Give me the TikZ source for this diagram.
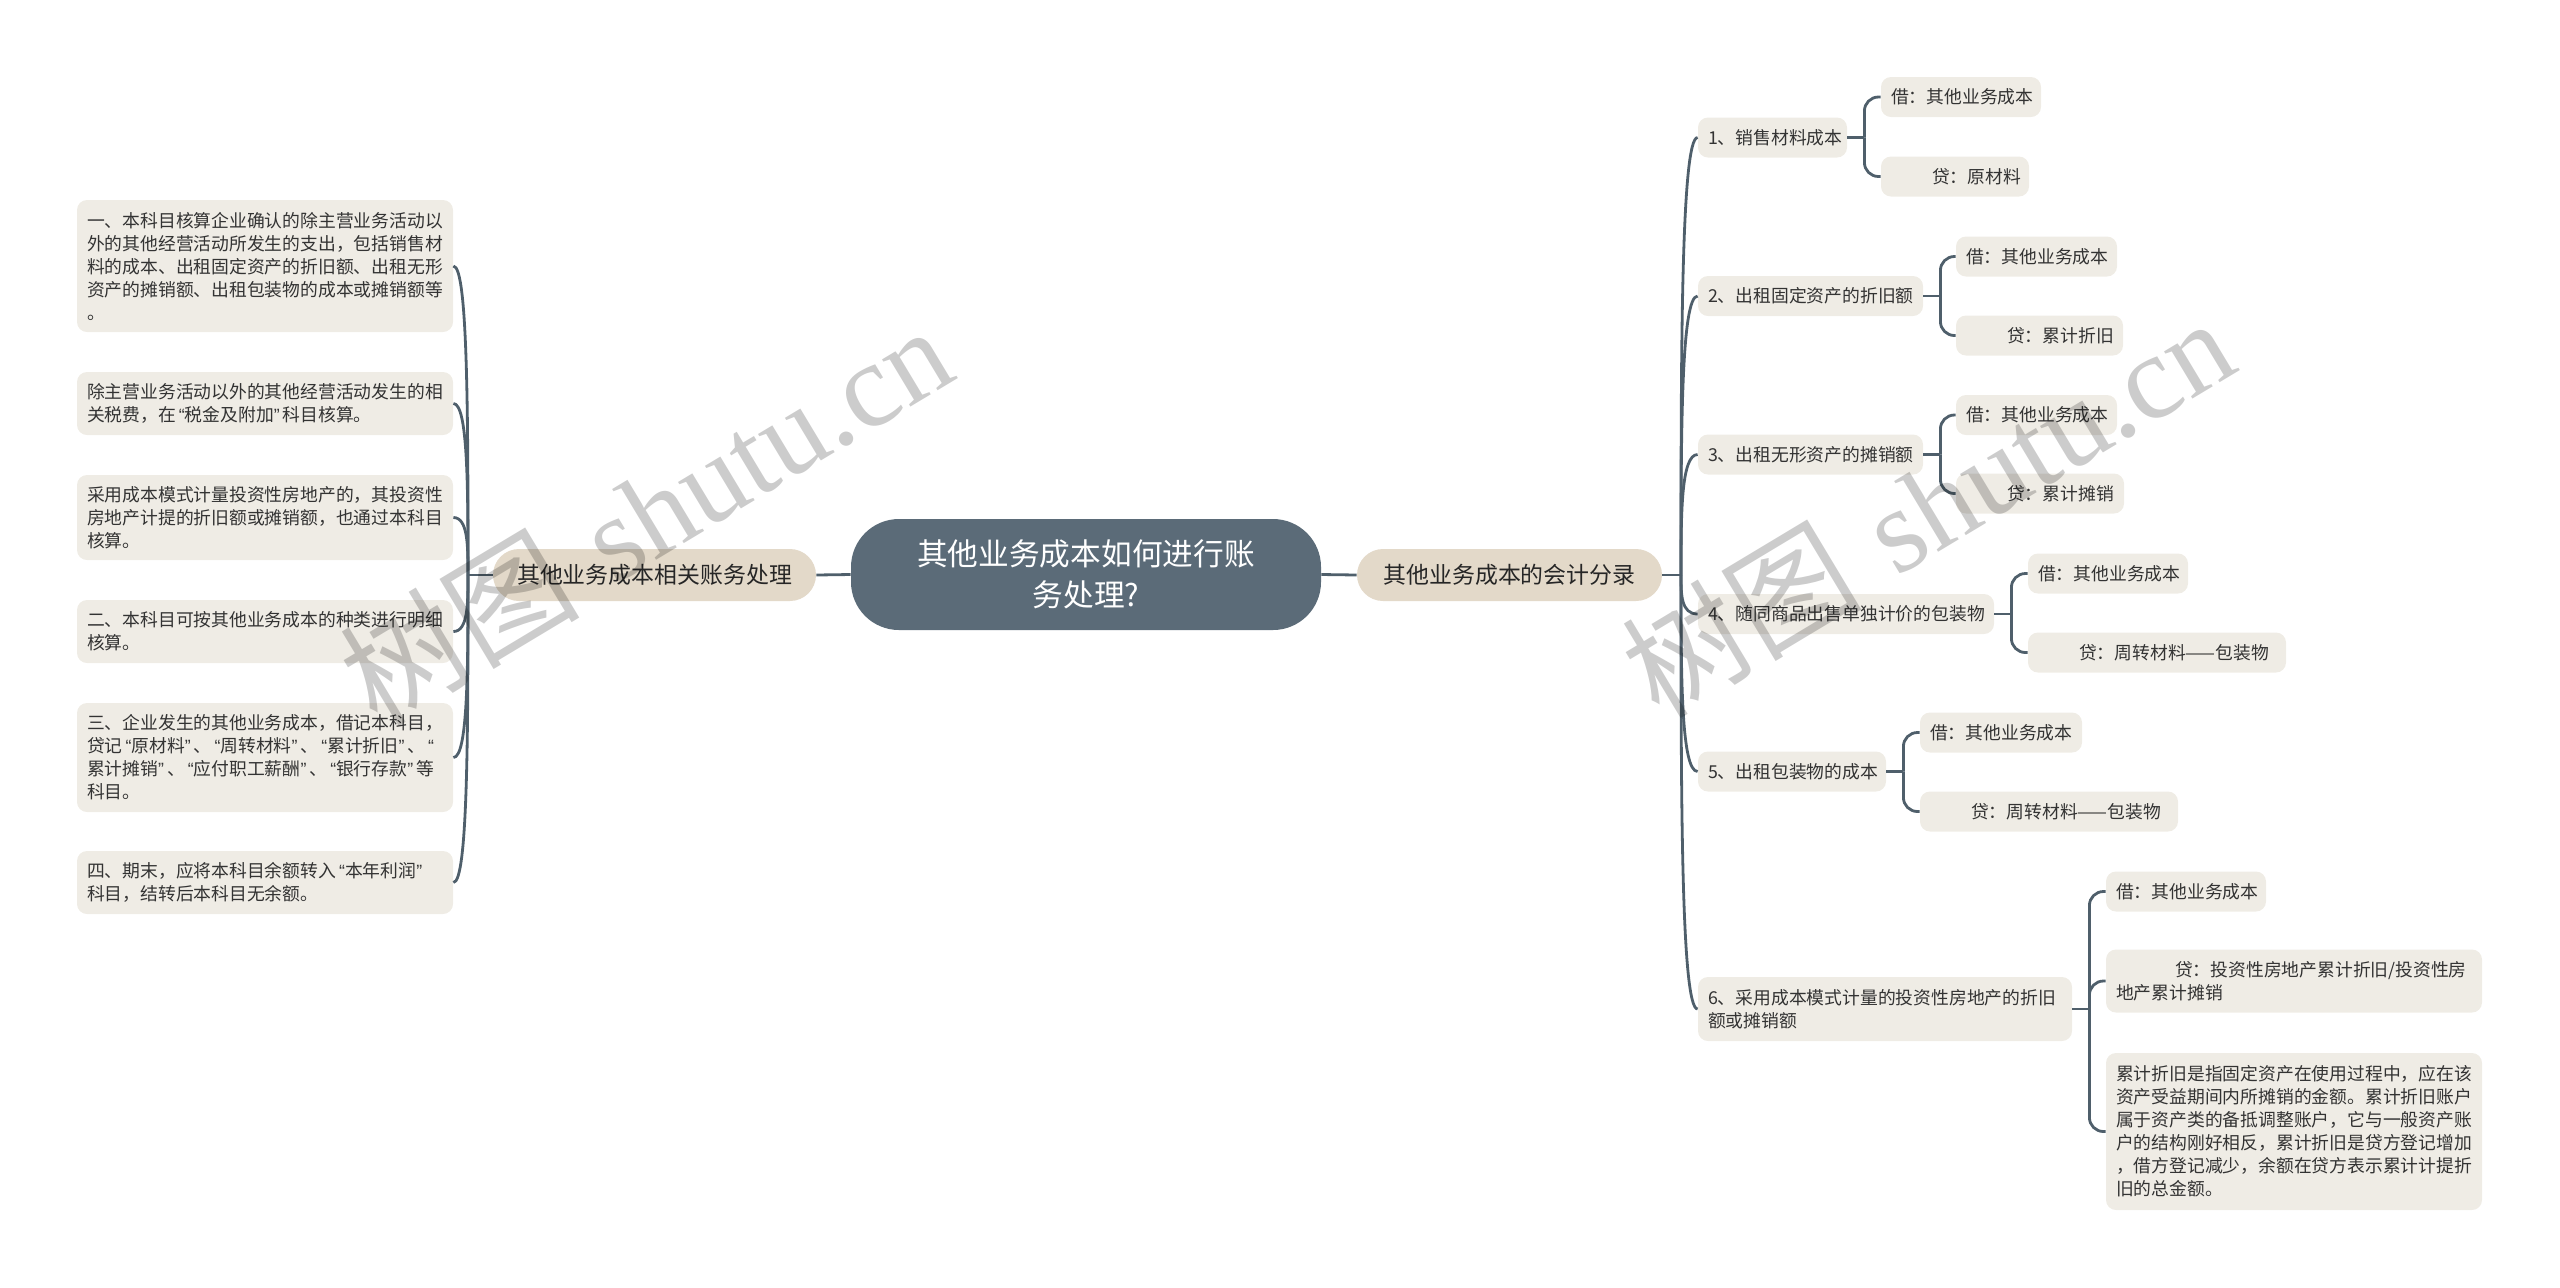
\documentclass[tikz,border=0pt]{standalone}
\usepackage{fontspec}
\newfontfamily\cjk{Noto Sans CJK SC}
\newfontfamily\wmserif{Liberation Serif}
\newfontfamily\qf{Liberation Sans}
\newcommand\qL{\makebox[0.5em][r]{\qf “}}
\newcommand\qR{\makebox[0.5em][l]{\qf ”}}
\usetikzlibrary{calc}
\definecolor{rootc}{HTML}{5B6B78}
\definecolor{mainc}{HTML}{E3D9C9}
\definecolor{leafc}{HTML}{EFECE5}
\definecolor{linec}{HTML}{4F5F6B}
\definecolor{txtc}{HTML}{333333}
\begin{document}
\begin{tikzpicture}[x=0.5pt,y=-0.5pt,
 conn/.style={draw=linec, line width=1.4pt},
 leaf/.style={fill=leafc, rounded corners=5pt, inner xsep=5pt, inner ysep=0pt, align=left, text=txtc, font=\cjk\fontsize{8.9pt}{11.5pt}\selectfont},
 mainnode/.style={fill=mainc, rounded corners=13pt, inner sep=0pt, align=center, text=black!85, minimum height=26pt, font=\cjk\fontsize{11.45pt}{14pt}\selectfont},
 rootnode/.style={fill=rootc, rounded corners=24pt, inner sep=0pt, align=center, text=white, minimum width=235pt, minimum height=55.5pt, font=\cjk\fontsize{15.35pt}{20.5pt}\selectfont},
 wm/.style={rotate=31, text=black, text opacity=0.2, font=\fontsize{60pt}{60pt}\selectfont, inner sep=0pt},
]
\useasboundingbox (0,0) rectangle (2560,1287);

% root and main nodes
\node[rootnode] (root) at (1086,574.5) {其他业务成本如何进行账\\务处理?};
\node[mainnode, minimum width=161.5pt] (LM) at (654.5,575) {其他业务成本相关账务处理};
\node[mainnode, minimum width=152.5pt] (RM) at (1509.5,575) {其他业务成本的会计分录};

% left leaves
\node[leaf, minimum width=188pt, text width=178pt, minimum height=66pt] (L1) at (265,266) {一、本科目核算企业确认的除主营业务活动以\\外的其他经营活动所发生的支出，包括销售材\\料的成本、出租固定资产的折旧额、出租无形\\资产的摊销额、出租包装物的成本或摊销额等\\。};
\node[leaf, minimum width=188pt, text width=178pt, minimum height=31.5pt] (L2) at (265,403.5) {除主营业务活动以外的其他经营活动发生的相\\关税费，在\qL 税金及附加\qR 科目核算。};
\node[leaf, minimum width=188pt, text width=178pt, minimum height=42.5pt] (L3) at (265,517.5) {采用成本模式计量投资性房地产的，其投资性\\房地产计提的折旧额或摊销额，也通过本科目\\核算。};
\node[leaf, minimum width=188pt, text width=178pt, minimum height=31.5pt] (L4) at (265,631.5) {二、本科目可按其他业务成本的种类进行明细\\核算。};
\node[leaf, minimum width=188pt, text width=178pt, minimum height=54.5pt] (L5) at (265,757.5) {三、企业发生的其他业务成本，借记本科目，\\贷记\qL 原材料\qR 、\qL 周转材料\qR 、\qL 累计折旧\qR 、\qL\\累计摊销\qR 、\qL 应付职工薪酬\qR 、\qL 银行存款\qR 等\\科目。};
\node[leaf, minimum width=188pt, text width=178pt, minimum height=31.5pt] (L6) at (265,882.5) {四、期末，应将本科目余额转入\qL 本年利润\qR\\科目，结转后本科目无余额。};

% right second level
\node[leaf, minimum width=74.5pt, text width=64.5pt, minimum height=20pt] (R1) at (1772.5,137.5) {1、销售材料成本};
\node[leaf, minimum width=112.5pt, text width=102.5pt, minimum height=20pt] (R2) at (1810.5,296) {2、出租固定资产的折旧额};
\node[leaf, minimum width=112.5pt, text width=102.5pt, minimum height=20pt] (R3) at (1810.5,454.5) {3、出租无形资产的摊销额};
\node[leaf, minimum width=148pt, text width=138pt, minimum height=20pt] (R4) at (1846,614) {4、随同商品出售单独计价的包装物};
\node[leaf, minimum width=94pt, text width=84pt, minimum height=20pt] (R5) at (1792,771.5) {5、出租包装物的成本};
\node[leaf, minimum width=187pt, text width=177pt, minimum height=32pt] (R6) at (1885,1009) {6、采用成本模式计量的投资性房地产的折旧\\额或摊销额};

% right third level
\node[leaf, minimum width=80pt, text width=70pt, minimum height=20pt] (R1a) at (1961,97) {借：其他业务成本};
\node[leaf, minimum width=74pt, text width=64pt, minimum height=20pt] (R1b) at (1955,176.5) {\hspace*{20.5pt}贷：原材料};
\node[leaf, minimum width=80.5pt, text width=70.5pt, minimum height=20pt] (R2a) at (2036.5,256.5) {借：其他业务成本};
\node[leaf, minimum width=83.5pt, text width=73.5pt, minimum height=20pt] (R2b) at (2039.5,335.5) {\hspace*{20.5pt}贷：累计折旧};
\node[leaf, minimum width=80.5pt, text width=70.5pt, minimum height=20pt] (R3a) at (2036.5,415) {借：其他业务成本};
\node[leaf, minimum width=84pt, text width=74pt, minimum height=20pt] (R3b) at (2040,493.5) {\hspace*{20.5pt}贷：累计摊销};
\node[leaf, minimum width=80pt, text width=70pt, minimum height=20pt] (R4a) at (2108,573.5) {借：其他业务成本};
\node[leaf, minimum width=129pt, text width=119pt, minimum height=20pt] (R4b) at (2157,652.5) {\hspace*{20.5pt}贷：周转材料——包装物};
\node[leaf, minimum width=81pt, text width=71pt, minimum height=20pt] (R5a) at (2001,732.5) {借：其他业务成本};
\node[leaf, minimum width=129pt, text width=119pt, minimum height=20pt] (R5b) at (2049,811.5) {\hspace*{20.5pt}贷：周转材料——包装物};
\node[leaf, minimum width=80pt, text width=70pt, minimum height=20pt] (R6a) at (2186,891.5) {借：其他业务成本};
\node[leaf, minimum width=188pt, text width=178pt, minimum height=31.5pt] (R6b) at (2294,981) {\hspace*{29.5pt}贷：投资性房地产累计折旧/投资性房\\地产累计摊销};
\node[leaf, minimum width=188pt, text width=178pt, minimum height=78.5pt] (R6c) at (2294,1131.5) {累计折旧是指固定资产在使用过程中，应在该\\资产受益期间内所摊销的金额。累计折旧账户\\属于资产类的备抵调整账户，它与一般资产账\\户的结构刚好相反，累计折旧是贷方登记增加\\，借方登记减少，余额在贷方表示累计计提折\\旧的总金额。};

% root connectors
\draw[conn] (root.west) -- (LM.east);
\draw[conn] (root.east) -- (RM.west);

% left curved connectors
\coordinate (jL) at (468,575);
\draw[conn] (LM.west) -- (jL);
\foreach \n in {L1,L2,L3,L4,L5,L6}{
  \draw[conn] (jL) .. controls ($(jL)!0.5!(jL |- \n.east)$) and (jL |- \n.east) .. (\n.east);
}
% right curved connectors
\coordinate (jR) at (1681,575);
\draw[conn] (RM.east) -- (jR);
\foreach \n in {R1,R2,R3,R4,R5,R6}{
  \draw[conn] (jR) .. controls ($(jR)!0.5!(jR |- \n.west)$) and (jR |- \n.west) .. (\n.west);
}

% elbow connectors
\foreach \p/\kids in {R1/{R1a,R1b},R2/{R2a,R2b},R3/{R3a,R3b},R4/{R4a,R4b},R5/{R5a,R5b},R6/{R6a,R6b,R6c}}{
  \draw[conn] (\p.east) -- ++(17,0) coordinate (j\p);
  \foreach \k in \kids {
    \draw[conn, rounded corners=7pt] (j\p) |- (\k.west);
  }
}

% watermarks
\node[wm] (wm1) at (645,514) {{\cjk 树图} {\wmserif shutu.cn}};
\node[wm] (wm2) at (1927,506) {{\cjk 树图} {\wmserif shutu.cn}};
\end{tikzpicture}
\end{document}
